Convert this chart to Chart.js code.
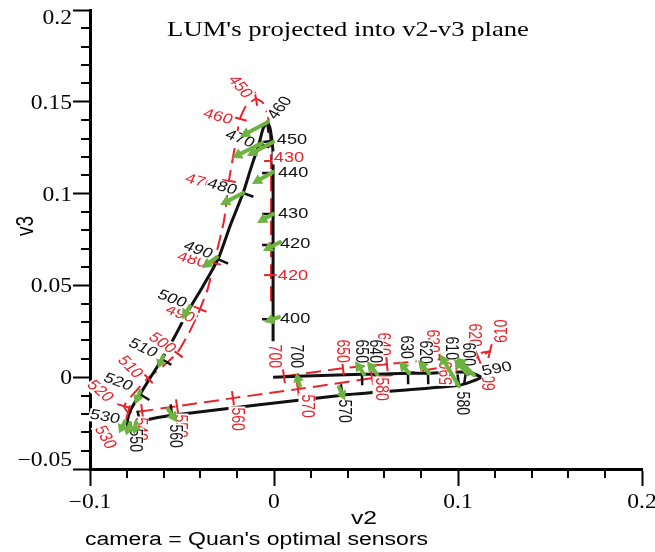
<!DOCTYPE html>
<html>
<head>
<meta charset="utf-8">
<script src="https://cdn.jsdelivr.net/npm/chart.js@4/dist/chart.umd.min.js"></script>
<style>
html,body{margin:0;padding:0;background:#ffffff;}
#box{position:relative;width:655px;height:552px;}
</style>
</head>
<body>
<div id="box"><canvas id="chart" width="655" height="552"></canvas></div>
<script>
// ---------------- data ----------------
// black solid curve: wavelength (nm), v2, v3
const blackWl = [390,400,410,420,430,440,445,450,455,460,465,470,475,480,485,490,495,500,505,510,515,520,525,530,540,550,560,570,580,590,600,610,620,630,640,650,700,780];
const blackV2 = [-0.0005,-0.0005,-0.0005,-0.0005,-0.0005,-0.0005,-0.0005,-0.0011,-0.0022,-0.0038,-0.0060,-0.0082,-0.0125,-0.0168,-0.0239,-0.0304,-0.0386,-0.0467,-0.0538,-0.0609,-0.0674,-0.0728,-0.0777,-0.0799,-0.0793,-0.0728,-0.0554,0.0370,0.1005,0.1125,0.1043,0.0946,0.0837,0.0728,0.0549,0.0478,0.0130,-0.0005];
const blackV3 = [0.0196,0.0316,0.0513,0.0720,0.0889,0.1112,0.1216,0.1287,0.1358,0.1390,0.1352,0.1270,0.1140,0.1003,0.0823,0.0643,0.0496,0.0360,0.0224,0.0098,-0.0005,-0.0093,-0.0174,-0.0245,-0.0268,-0.0240,-0.0207,-0.0098,-0.0044,0.0000,0.0027,0.0027,0.0022,0.0022,0.0016,0.0016,0.0005,0.0000];

// red dashed curve: wavelength (nm), v2, v3
const redWl = [400,410,420,425,430,435,440,445,450,455,460,465,470,475,480,485,490,495,500,505,510,515,520,530,540,550,560,570,580,590,600,610,620,630,640,650,700];
const redV2 = [-0.0016,-0.0016,-0.0016,-0.0016,-0.0016,-0.0022,-0.0033,-0.0060,-0.0098,-0.0152,-0.0185,-0.0212,-0.0245,-0.0272,-0.0326,-0.0359,-0.0402,-0.0457,-0.0527,-0.0603,-0.0685,-0.0761,-0.0815,-0.0793,-0.0717,-0.0527,-0.0223,0.0130,0.0533,0.0984,0.1109,0.1174,0.1065,0.0902,0.0614,0.0375,0.0054];
const redV3 = [0.0414,0.0469,0.0556,0.0851,0.1178,0.1314,0.1423,0.1494,0.1516,0.1478,0.1407,0.1260,0.1069,0.0851,0.0622,0.0485,0.0371,0.0251,0.0131,0.0060,-0.0005,-0.0087,-0.0158,-0.0191,-0.0185,-0.0158,-0.0114,-0.0065,-0.0005,0.0065,0.0109,0.0142,0.0120,0.0098,0.0071,0.0049,0.0005];

// wavelengths that carry a tick mark and a number
const blackLabelWl = [400,420,430,440,450,460,470,480,490,500,510,520,530,550,560,570,580,590,600,610,620,630,640,650,700];
const redLabelWl   = [420,430,450,460,470,480,490,500,510,520,530,540,550,560,570,580,590,600,610,620,630,640,650,700];

// green arrows: wavelength, start (v2,v3), end (v2,v3)
const arrowWl     = [400,420,430,440,450,460,470,480,490,500,510,520,530,540,550,560,570,580,590,600,620,630,640,650,700];
const arrowFromV2 = [0.0027,0.0033,-0.0005,-0.0005,-0.0005,-0.0033,-0.0065,-0.0168,-0.0310,-0.0457,-0.0603,-0.0728,-0.0810,-0.0783,-0.0750,-0.0576,0.0353,0.1005,0.1087,0.1054,0.0842,0.0734,0.0560,0.0489,0.0141];
const arrowFromV3 = [0.0327,0.0736,0.0889,0.1118,0.1281,0.1390,0.1276,0.1003,0.0654,0.0387,0.0115,-0.0076,-0.0240,-0.0251,-0.0245,-0.0174,-0.0055,-0.0049,0.0011,0.0016,0.0022,0.0022,0.0016,0.0016,-0.0049];
const arrowToV2   = [-0.0054,-0.0060,-0.0092,-0.0120,-0.0147,-0.0185,-0.0228,-0.0293,-0.0391,-0.0500,-0.0630,-0.0755,-0.0842,-0.0804,-0.0761,-0.0527,0.0386,0.0902,0.0989,0.0978,0.0783,0.0679,0.0505,0.0440,0.0120];
const arrowToV3   = [0.0300,0.0687,0.0840,0.1052,0.1205,0.1309,0.1194,0.0938,0.0594,0.0316,0.0049,-0.0147,-0.0305,-0.0316,-0.0311,-0.0245,-0.0125,0.0125,0.0109,0.0098,0.0093,0.0087,0.0087,0.0087,0.0022];

// axis tick labels
const xTickValues = [-0.1, 0, 0.1, 0.2];
const xTickLabels = ['\u22120.1', '0', '0.1', '0.2'];
const yTickValues = [-0.05, 0, 0.05, 0.1, 0.15, 0.2];
const yTickLabels = ['\u22120.05', '0', '0.05', '0.1', '0.15', '0.2'];

// ---------------- layout (label placement, px offsets and screen angle) ----------------
const blackLabelDx  = [22,22,20,20,20,13,-19,-21,-20,-16,-19,-22,-22,-5,3,2,3,16,2,3,-3,-2,0,-1,-2];
const blackLabelDy  = [0,-1,0,0,-1,-14,-5,-6,-9,-12,-11,-12,-5,19,21,16,18,-8,-18,-24,-21,-26,-23,-23,-20];
const blackLabelRot = [0,0,0,0,0,-50,20,15,20,20,25,20,10,90,90,90,90,-10,90,90,90,90,90,90,90];
const redLabelDx  = [22,18,-16,-22,-29,-22,-20,-15,-18,-24,-23,-2,3,4,9,9,-8,12,12,4,-8,-4,-1,-10];
const redLabelDy  = [1,-3,-12,-2,1,-3,5,-10,-11,-15,25,18,20,21,17,11,8,22,-20,-20,-18,-20,-17,-20];
const redLabelRot = [0,0,50,15,15,15,20,35,45,40,60,90,90,90,90,90,-90,-90,-90,90,90,90,90,90];

const SX = 1.3;        // horizontal stretch of the original picture's lettering
const BLACK = '#111111', RED = '#e8232b', GREEN = '#6cb33f';
const SERIF = '"Liberation Serif", "Times New Roman", serif';
const SANS = '"Liberation Sans", Arial, Helvetica, sans-serif';

function isMult(v, step) { const r = v / step; return Math.abs(r - Math.round(r)) < 1e-6; }
function seg(ctx, x1, y1, x2, y2) { ctx.beginPath(); ctx.moveTo(x1, y1); ctx.lineTo(x2, y2); ctx.stroke(); }

function drawText(ctx, txt, x, y, rotDeg, font, color, align, baseline, bg, sx) {
  const k = sx || SX;
  const th = rotDeg * Math.PI / 180;
  const thp = Math.atan2(k * Math.sin(th), Math.cos(th));
  ctx.save();
  ctx.translate(x, y);
  ctx.scale(k, 1);
  ctx.rotate(thp);
  ctx.font = font;
  ctx.textAlign = align || 'center';
  ctx.textBaseline = baseline || 'middle';
  if (bg) {
    const w = ctx.measureText(txt).width;
    ctx.fillStyle = '#ffffff';
    ctx.fillRect(-w / 2 - 1, -6.5, w + 2, 13);
  }
  ctx.fillStyle = color;
  ctx.fillText(txt, 0, 0);
  ctx.restore();
}

function pts(a, b) { return a.map((v, i) => ({ x: v, y: b[i] })); }

const overlay = {
  id: 'overlay',
  afterDraw(chart) {
    const ctx = chart.ctx, xs = chart.scales.x, ys = chart.scales.y, area = chart.chartArea;
    const P = (a, b) => [xs.getPixelForValue(a), ys.getPixelForValue(b)];
    ctx.save();
    // minor axis ticks
    ctx.strokeStyle = '#000'; ctx.lineWidth = 2;
    xs.ticks.forEach(t => {
      if (!isMult(t.value, 0.1)) { const X = Math.round(xs.getPixelForValue(t.value)); seg(ctx, X, area.bottom, X, area.bottom + 9); }
    });
    ys.ticks.forEach(t => {
      if (!isMult(t.value, 0.05)) { const Y = Math.round(ys.getPixelForValue(t.value)); seg(ctx, area.left - 9, Y, area.left, Y); }
    });
    // axis numbers
    const tf = '20px ' + SERIF;
    xTickValues.forEach((v, i) => {
      drawText(ctx, xTickLabels[i], xs.getPixelForValue(v), area.bottom + 39, 0, tf, '#000', 'center', 'alphabetic', false, 1.18);
    });
    yTickValues.forEach((v, i) => {
      let Y = ys.getPixelForValue(v) + 7;
      if (i === yTickValues.length - 1) Y += 7;
      if (i === 0) Y -= 10;
      drawText(ctx, yTickLabels[i], area.left - 18, Y, 0, tf, '#000', 'right', 'alphabetic', false, 1.18);
    });

    // curve tick marks
    function normalAt(wlArr, v2, v3, idx) {
      const i0 = Math.max(idx - 1, 0), i1 = Math.min(idx + 1, wlArr.length - 1);
      const a = P(v2[i0], v3[i0]), b = P(v2[i1], v3[i1]);
      let tx = b[0] - a[0], ty = b[1] - a[1]; const L = Math.hypot(tx, ty) || 1;
      tx /= L; ty /= L;
      return [-ty, tx];
    }
    ctx.lineWidth = 2.5; ctx.lineCap = 'butt';
    ctx.strokeStyle = BLACK;
    blackLabelWl.forEach((wl, k) => {
      const idx = blackWl.indexOf(wl); if (idx < 0) return;
      const p = P(blackV2[idx], blackV3[idx]);
      let n = normalAt(blackWl, blackV2, blackV3, idx);
      if (n[0] * blackLabelDx[k] + n[1] * blackLabelDy[k] > 0) n = [-n[0], -n[1]];
      seg(ctx, p[0], p[1], p[0] + n[0] * 11, p[1] + n[1] * 11);
    });
    ctx.lineWidth = 2;
    ctx.strokeStyle = RED;
    redLabelWl.forEach((wl, k) => {
      const idx = redWl.indexOf(wl); if (idx < 0) return;
      const p = P(redV2[idx], redV3[idx]);
      const n = normalAt(redWl, redV2, redV3, idx);
      seg(ctx, p[0] - n[0] * 7, p[1] - n[1] * 7, p[0] + n[0] * 7, p[1] + n[1] * 7);
    });

    // wavelength numbers (white boxes behind, as in the original)
    const lf = '14px ' + SANS;
    redLabelWl.forEach((wl, k) => {
      const idx = redWl.indexOf(wl); if (idx < 0) return;
      const p = P(redV2[idx], redV3[idx]);
      drawText(ctx, String(wl), p[0] + redLabelDx[k], p[1] + redLabelDy[k], redLabelRot[k], lf, RED, 'center', 'middle', true);
    });
    blackLabelWl.forEach((wl, k) => {
      const idx = blackWl.indexOf(wl); if (idx < 0) return;
      const p = P(blackV2[idx], blackV3[idx]);
      drawText(ctx, String(wl), p[0] + blackLabelDx[k], p[1] + blackLabelDy[k], blackLabelRot[k], lf, BLACK, 'center', 'middle', true);
    });

    // green arrows
    ctx.strokeStyle = GREEN; ctx.fillStyle = GREEN; ctx.lineWidth = 4; ctx.lineCap = 'round';
    arrowWl.forEach((wl, i) => {
      const a = P(arrowFromV2[i], arrowFromV3[i]), b = P(arrowToV2[i], arrowToV3[i]);
      let dx = b[0] - a[0], dy = b[1] - a[1]; const L = Math.hypot(dx, dy) || 1;
      const ux = dx / L, uy = dy / L;
      const hl = Math.min(10, L * 0.65), hw = 5.5;
      const bx = b[0] - ux * hl, by = b[1] - uy * hl;
      seg(ctx, a[0], a[1], bx, by);
      ctx.beginPath();
      ctx.moveTo(b[0], b[1]);
      ctx.lineTo(bx - uy * hw, by + ux * hw);
      ctx.lineTo(bx + uy * hw, by - ux * hw);
      ctx.closePath(); ctx.fill();
    });

    // titles
    drawText(ctx, "LUM's projected into v2-v3 plane", 348, 36, 0, '21px ' + SERIF, '#000', 'center', 'alphabetic', false, 1.27);
    drawText(ctx, 'v2', 364, 519, 0, '19px ' + SANS, '#000', 'center', 'middle');
    drawText(ctx, 'v3', 26, 226, -90, '19px ' + SANS, '#000', 'center', 'middle');
    drawText(ctx, "camera = Quan's optimal sensors", 85, 540, 0, '18px ' + SANS, '#000', 'left', 'middle', false, 1.28);
    ctx.restore();
  }
};

new Chart(document.getElementById('chart'), {
  type: 'scatter',
  data: {
    datasets: [
      { label: 'black', data: pts(blackV2, blackV3), showLine: true, borderColor: BLACK, borderWidth: 3,
        pointRadius: 0, tension: 0.2, fill: false },
      { label: 'red', data: pts(redV2, redV3), showLine: true, borderColor: RED, borderWidth: 2,
        borderDash: [15, 7], pointRadius: 0, tension: 0.15, fill: false }
    ]
  },
  options: {
    responsive: false,
    animation: false,
    devicePixelRatio: 1,
    events: [],
    layout: { padding: { top: 10, right: 13, left: 0, bottom: 0 } },
    plugins: { legend: { display: false }, tooltip: { enabled: false }, title: { display: false } },
    scales: {
      x: {
        type: 'linear', position: 'bottom', min: -0.1, max: 0.2,
        ticks: { stepSize: 0.02, display: false },
        grid: { drawOnChartArea: false, drawTicks: true, tickLength: 17, tickWidth: 2,
                tickColor: c => (c.tick && isMult(c.tick.value, 0.1)) ? '#000' : 'rgba(0,0,0,0)' },
        border: { display: true, color: '#000', width: 3 },
        afterFit: s => { s.height = 83; }
      },
      y: {
        type: 'linear', position: 'left', min: -0.05, max: 0.2,
        ticks: { stepSize: 0.01, display: false },
        grid: { drawOnChartArea: false, drawTicks: true, tickLength: 17, tickWidth: 2,
                tickColor: c => (c.tick && isMult(c.tick.value, 0.05)) ? '#000' : 'rgba(0,0,0,0)' },
        border: { display: true, color: '#000', width: 3 },
        afterFit: s => { s.width = 90; }
      }
    }
  },
  plugins: [overlay]
});
</script>
</body>
</html>
